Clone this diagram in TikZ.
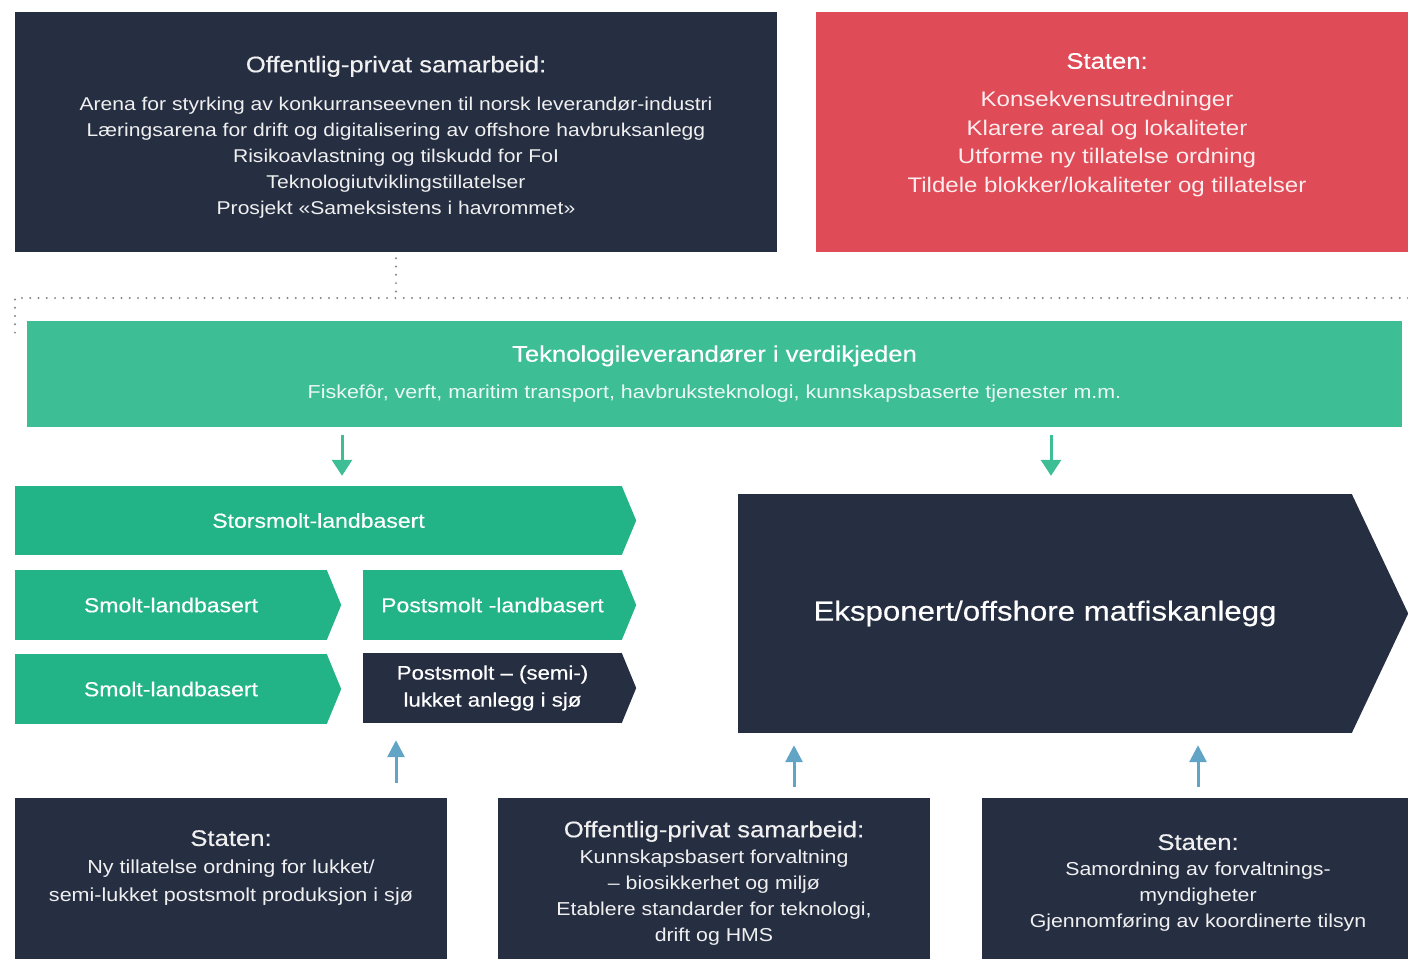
\documentclass[tikz,border=0pt]{standalone}
\usepackage{fontspec}
\setmainfont{Liberation Sans}[FakeStretch=1.14]
\newfontfamily\medium{Liberation Sans}[FakeStretch=1.14,FakeBold=0.4]
\usetikzlibrary{positioning,arrows.meta}
\definecolor{navy}{HTML}{262E42}
\definecolor{statred}{HTML}{E04B58}
\definecolor{lightgreen}{HTML}{3DBE94}
\definecolor{chevgreen}{HTML}{22B386}
\definecolor{arrowblue}{HTML}{62A4C6}
\definecolor{dotgrey}{HTML}{80858C}
\definecolor{paletext}{HTML}{F0F0F0}
\newcommand{\headline}[1]{{\medium\fontsize{22.5}{26}\selectfont #1}}

\begin{document}
\begin{tikzpicture}[x=1pt,y=-1pt,
	panel/.style={fill=navy, inner sep=0pt},
	txt/.style={text=paletext, align=center, font=\fontsize{18.7}{26}\selectfont},
	chev/.style={fill=chevgreen, text=white, inner sep=0pt, minimum height=70pt, font=\medium\fontsize{20.2}{27}\selectfont, align=center},
	greenarrow/.style={draw=lightgreen, line width=3pt, -{Triangle[length=16pt,width=20pt]}},
	bluearrow/.style={draw=arrowblue, line width=3pt, -{Triangle[length=17pt,width=17pt]}},
	dots/.style={draw=dotgrey, line width=2.2pt, dash pattern=on 0pt off 8.3pt, line cap=round}]
\useasboundingbox (0,0) rectangle (1408,959);

% top row
\node[panel, minimum width=762pt, minimum height=240pt] (opsTop) at (396,132) {};
\node[txt, font=\fontsize{18.5}{26}\selectfont] (opsTopTxt) at (396,137) {\headline{Offentlig-privat samarbeid:}\\[12pt]
	Arena for styrking av konkurranseevnen til norsk leverandør-industri\\
	Læringsarena for drift og digitalisering av offshore havbruksanlegg\\
	Risikoavlastning og tilskudd for FoI\\
	Teknologiutviklingstillatelser\\
	Prosjekt «Sameksistens i havrommet»};
\node[fill=statred, inner sep=0pt, minimum width=592pt, minimum height=240pt] (statTop) at (1112,132) {};
\node[txt, text=white!90!statred, font=\fontsize{21.1}{28.7}\selectfont] (statTopTxt) at (1107,125) {{\color{white}\headline{Staten:}}\\[9pt]
	Konsekvensutredninger\\
	Klarere areal og lokaliteter\\
	Utforme ny tillatelse ordning\\
	Tildele blokker/lokaliteter og tillatelser};

% dotted link
\coordinate (dotknee) at (396,298);
\draw[dots] ([yshift=-6pt]opsTop.south) -- (dotknee);
\draw[dots] (1408,298) -- (15,298) -- (15,336);

% technology suppliers
\node[fill=lightgreen, txt, text=white, minimum width=1375pt, minimum height=106pt] (band) at (714.5,374)
	{{\medium\fontsize{22.5}{26}\selectfont Teknologileverandører i verdikjeden}\\[11pt]
	{\fontsize{18.8}{26}\selectfont\color{white!90!lightgreen}Fiskefôr, verft, maritim transport, havbruksteknologi, kunnskapsbaserte tjenester m.m.}};

% value chain
\node[chev, minimum width=607pt, minimum height=69pt] (stor) at (318.5,520.5) {Storsmolt-landbasert};
\node[chev, minimum width=312pt] (smoltA) at (171,605) {Smolt-landbasert};
\node[chev, minimum width=259pt] (postA) at (492.5,605) {Postsmolt -landbasert};
\node[chev, minimum width=312pt] (smoltB) at (171,689) {Smolt-landbasert};
\node[chev, fill=navy, minimum width=259pt, font=\medium\fontsize{19.5}{27}\selectfont] (postB) at (492.5,688) {Postsmolt – (semi-)\\lukket anlegg i sjø};
\node[chev, fill=navy, minimum width=614pt, minimum height=239pt, font=\medium\fontsize{27.4}{32}\selectfont] (big) at (1045,613.5) {Eksponert/offshore matfiskanlegg};
\foreach \n/\c/\d in {stor/chevgreen/14, smoltA/chevgreen/14, postA/chevgreen/14, smoltB/chevgreen/14, postB/navy/14, big/navy/56}
	\fill[\c] ([xshift=-0.5pt]\n.north east) -- ([xshift=\d pt]\n.east) -- ([xshift=-0.5pt]\n.south east) -- cycle;

\draw[greenarrow, shorten <=8pt, shorten >=10pt] (band.south -| 342,0) -- (stor.north -| 342,0);
\draw[greenarrow, shorten <=8pt, shorten >=18pt] (band.south -| 1051,0) -- (big.north -| 1051,0);

% bottom row
\node[panel, minimum width=432pt, minimum height=161pt] (statA) at (231,878.5) {};
\node[txt, font=\fontsize{18.9}{28}\selectfont] (statATxt) at (231,868) {\headline{Staten:}\\
	Ny tillatelse ordning for lukket/\\
	semi-lukket postsmolt produksjon i sjø};
\node[panel, minimum width=432pt, minimum height=161pt] (opsBot) at (714,878.5) {};
\node[txt] (opsBotTxt) at (714,883) {\headline{Offentlig-privat samarbeid:}\\
	Kunnskapsbasert forvaltning\\
	– biosikkerhet og miljø\\
	Etablere standarder for teknologi,\\
	drift og HMS};
\node[panel, minimum width=426pt, minimum height=161pt] (statB) at (1195,878.5) {};
\node[txt] (statBTxt) at (1198,883) {\headline{Staten:}\\
	Samordning av forvaltnings-\\
	myndigheter\\
	Gjennomføring av koordinerte tilsyn};

\draw[bluearrow, shorten <=15pt, shorten >=17pt] (statA.north -| 396,0) -- (postB.south -| 396,0);
\draw[bluearrow, shorten <=11pt, shorten >=12pt] (opsBot.north -| 794,0) -- (big.south -| 794,0);
\draw[bluearrow, shorten <=11pt, shorten >=12pt] (statB.north -| 1198,0) -- (big.south -| 1198,0);
\end{tikzpicture}
\end{document}
